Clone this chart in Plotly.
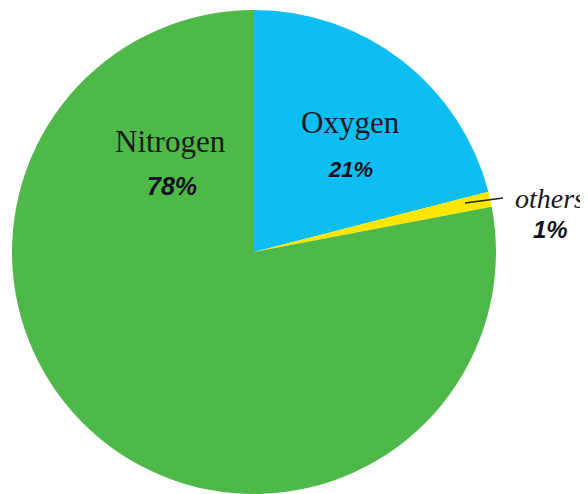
import plotly.graph_objects as go

# The page body has an 8px margin, so the figure is drawn 8px in from the top-left.
OFF = 8
W, H = 588 - OFF, 494 - OFF

labels = ["Oxygen", "others", "Nitrogen"]
values = [21, 1, 78]
colors = ["#0DBEF2", "#FFE700", "#4EB849"]
pct_text = ["21%", "1%", "78%"]

fig = go.Figure(go.Pie(
    labels=labels,
    values=values,
    sort=False,
    direction="clockwise",
    rotation=0,
    marker=dict(colors=colors, line=dict(width=0)),
    textinfo="none",
    hoverinfo="label+percent",
    showlegend=False,
    domain=dict(x=[(12 - OFF) / W, (496 - OFF) / W], y=[max(0, 1 - (494 - OFF) / H), 1 - (10 - OFF) / H]),
))

def px(x, y):
    return (x - OFF) / W, 1 - (y - OFF) / H

serif = "Liberation Serif, Times New Roman, serif"
sans = "Liberation Sans, Arial, sans-serif"

# label positions (reference pixels) for each category
name_pos = {"Nitrogen": (170, 141), "Oxygen": (350, 123), "others": (550, 198)}
pct_pos = {"Nitrogen": (172, 186), "Oxygen": (350, 169), "others": (550, 229)}
name_size = {"Nitrogen": 31, "Oxygen": 31, "others": 28}
pct_size = {"Nitrogen": 25, "Oxygen": 22, "others": 24}

for lab, pt in zip(labels, pct_text):
    nx, ny = px(*name_pos[lab])
    txt = "<i>%s</i>" % lab if lab == "others" else lab
    fig.add_annotation(x=nx, y=ny, xref="paper", yref="paper", text=txt,
                       showarrow=False, xanchor="center", yanchor="middle",
                       font=dict(family=serif, size=name_size[lab], color="#1a1a1a"))
    qx, qy = px(*pct_pos[lab])
    fig.add_annotation(x=qx, y=qy, xref="paper", yref="paper", text="<b><i>%s</i></b>" % pt,
                       showarrow=False, xanchor="center", yanchor="middle",
                       font=dict(family=sans, size=pct_size[lab], color="#111122"))

# leader line for the small slice
x0, y0 = px(465, 203)
x1, y1 = px(503, 198)
fig.add_shape(type="line", xref="paper", yref="paper", x0=x0, y0=y0, x1=x1, y1=y1,
              line=dict(color="#222222", width=1.5))

fig.update_layout(
    width=W, height=H,
    margin=dict(l=0, r=0, t=0, b=0),
    paper_bgcolor="white",
    plot_bgcolor="white",
)

fig.write_html("out.html")
